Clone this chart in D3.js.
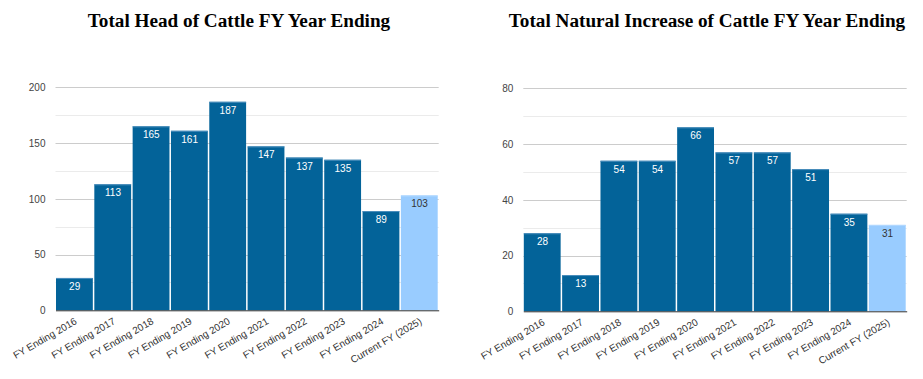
<html>
<head>
  <script src="https://d3js.org/d3.v7.min.js"></script>
  <style>
    body { margin: 0; background: #fff; }
    .tick text { font-family: Arial, "Liberation Sans", sans-serif; }
    .title { font-family: "Liberation Serif", "Times New Roman", serif; font-weight: bold; font-size: 19.2px; }
  </style>
</head>
<body>
  <svg id="chart" width="923" height="379"></svg>
  <script>

    const categories = ["FY Ending 2016", "FY Ending 2017", "FY Ending 2018", "FY Ending 2019", "FY Ending 2020",
      "FY Ending 2021", "FY Ending 2022", "FY Ending 2023", "FY Ending 2024", "Current FY (2025)"];
    const headValues = [29, 113, 165, 161, 187, 147, 137, 135, 89, 103];
    const increaseValues = [28, 13, 54, 54, 66, 57, 57, 51, 35, 31];
    const headTicks = [0, 50, 100, 150, 200];
    const increaseTicks = [0, 20, 40, 60, 80];

    const svg = d3.select("#chart");
    const darkBlue = "#036399";
    const lightBlue = "#99ccff";

    function drawChart(opts) {
      const g = svg.append("g");
      const x = d3.scaleBand().domain(categories).range([opts.left, opts.right]).padding(0);
      const y = d3.scaleLinear().domain([0, opts.max]).range([opts.bottom, opts.top]);

      g.append("text")
        .attr("class", "title")
        .attr("x", opts.titleX)
        .attr("y", 26.5)
        .attr("text-anchor", "middle")
        .text(opts.title);

      // minor gridlines
      const step = opts.ticks[1] - opts.ticks[0];
      const minor = opts.ticks.slice(1).map(t => t - step / 2);
      g.selectAll(".minor").data(minor).join("line")
        .attr("x1", opts.left).attr("x2", opts.right)
        .attr("y1", d => Math.round(y(d)) + 0.5).attr("y2", d => Math.round(y(d)) + 0.5)
        .attr("stroke", "#ebebeb");

      g.selectAll(".major").data(opts.ticks.slice(1)).join("line")
        .attr("x1", opts.left).attr("x2", opts.right)
        .attr("y1", d => Math.round(y(d)) + 0.5).attr("y2", d => Math.round(y(d)) + 0.5)
        .attr("stroke", "#cccccc");

      const yAxis = g.append("g")
        .attr("transform", "translate(" + (opts.left - 10) + ",0)")
        .call(d3.axisLeft(y).tickValues(opts.ticks).tickSize(0).tickPadding(0));
      yAxis.select(".domain").remove();
      yAxis.selectAll("text").attr("fill", "#444").style("font-size", "10px");

      g.selectAll(".bar").data(opts.values).join("rect")
        .attr("x", (d, i) => x(categories[i]) + 0.5)
        .attr("y", d => y(d))
        .attr("width", x.bandwidth() - 1.5)
        .attr("height", d => opts.bottom - y(d))
        .attr("fill", (d, i) => i === categories.length - 1 ? lightBlue : darkBlue);

      g.selectAll(".barTop").data(opts.values).join("line")
        .attr("x1", (d, i) => x(categories[i]) + 0.5)
        .attr("x2", (d, i) => x(categories[i]) + x.bandwidth() - 1)
        .attr("y1", d => y(d) + 0.5).attr("y2", d => y(d) + 0.5)
        .attr("stroke", (d, i) => i === categories.length - 1 ? "#b3d9ff" : "#4d8fbd");

      g.selectAll(".val").data(opts.values).join("text")
        .attr("x", (d, i) => x(categories[i]) + x.bandwidth() / 2)
        .attr("y", d => y(d) + 12)
        .attr("text-anchor", "middle")
        .style("font-family", "Arial, 'Liberation Sans', sans-serif")
        .style("font-size", "10px")
        .attr("fill", (d, i) => i === categories.length - 1 ? "#333" : "#fff")
        .text(d => d);

      const xAxis = g.append("g")
        .attr("transform", "translate(0," + opts.bottom + ")")
        .call(d3.axisBottom(x).tickSize(0).tickPadding(0));
      xAxis.select(".domain").attr("stroke", "#333");
      xAxis.selectAll("text")
        .attr("fill", "#333")
        .style("font-size", "10px")
        .attr("text-anchor", "end")
        .attr("dy", null)
        .attr("transform", "translate(3,13) rotate(-30)");
    }

    drawChart({
      title: "Total Head of Cattle FY Year Ending", titleX: 239,
      values: headValues, ticks: headTicks, max: 200,
      left: 55.5, right: 438.7, top: 87.3, bottom: 310.3
    });

    drawChart({
      title: "Total Natural Increase of Cattle FY Year Ending", titleX: 707,
      values: increaseValues, ticks: increaseTicks, max: 80,
      left: 523.3, right: 906.7, top: 88.3, bottom: 311.3
    });

  </script>
</body>
</html>
